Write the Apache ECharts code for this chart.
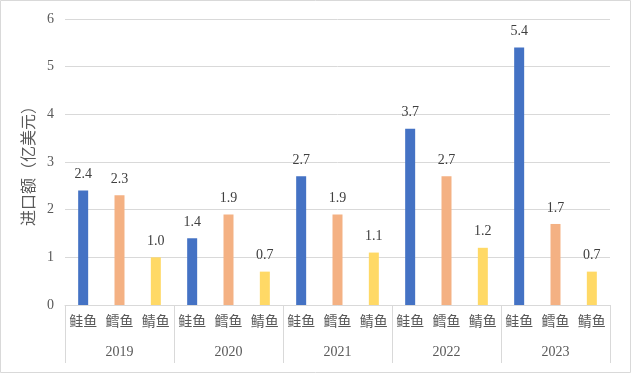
<!DOCTYPE html>
<html><head><meta charset="utf-8">
<script src="https://cdn.jsdelivr.net/npm/echarts@6/dist/echarts.min.js"></script>
<style>html,body{margin:0;padding:0;background:#fff}#c{width:631px;height:373px}</style>
</head><body><div id="c"></div>
<script>
var years = ['2019','2020','2021','2022','2023'];
var fish = ['鲑鱼','鳕鱼','鲭鱼'];
var salmon = [2.4, 1.4, 2.7, 3.7, 5.4];
var cod = [2.3, 1.9, 1.9, 2.7, 1.7];
var mackerel = [1.0, 0.7, 1.1, 1.2, 0.7];
var yTicks = [0,1,2,3,4,5,6];
var colors = ['#4472C4','#F4B183','#FFD966'];

var cats = [], data = [];
var vals = [salmon, cod, mackerel];
for (var i = 0; i < years.length; i++) {
  for (var j = 0; j < fish.length; j++) {
    cats.push(fish[j]);
    data.push({value: vals[j][i], itemStyle: {color: colors[j]}});
  }
}
var chart = echarts.init(document.getElementById('c'));
chart.setOption({
  animation: false,
  grid: {left: 65, right: 21, top: 19, bottom: 68},
  graphic: [{type:'rect', shape:{x:0.5,y:0.5,width:630,height:372}, style:{fill:'none', stroke:'#d9d9d9', lineWidth:1}}],
  xAxis: [{
    type: 'category', data: cats, position: 'bottom',
    axisLine: {lineStyle: {color: '#d9d9d9'}},
    axisTick: {show: false},
    axisLabel: {interval: 0, margin: 9, color: '#595959', fontSize: 14, fontFamily: 'Noto Sans CJK SC'}
  }, {
    type: 'category', data: years, position: 'bottom',
    axisLine: {show: false},
    axisTick: {show: true, length: 58, lineStyle: {color: '#d9d9d9'}},
    axisLabel: {margin: 40, color: '#595959', fontSize: 14, fontFamily: 'Liberation Serif'}
  }],
  yAxis: {
    type: 'value', min: yTicks[0], max: yTicks[yTicks.length-1], interval: 1,
    name: '进口额（亿美元）', nameLocation: 'middle', nameGap: 26, nameRotate: 90,
    nameTextStyle: {color: '#595959', fontSize: 16, fontFamily: 'Noto Sans CJK SC'},
    axisLine: {show: false}, axisTick: {show: false},
    axisLabel: {color: '#595959', fontSize: 14, margin: 11, fontFamily: 'Liberation Serif'},
    splitLine: {lineStyle: {color: '#d9d9d9'}}
  },
  series: [{
    type: 'bar', xAxisIndex: 0, data: data, barWidth: 10,
    label: {show: true, position: 'top', distance: 9, color: '#404040', fontSize: 14, fontFamily: 'Liberation Serif',
      formatter: function(p){ return p.value.toFixed(1); }}
  }]
});
</script></body></html>
